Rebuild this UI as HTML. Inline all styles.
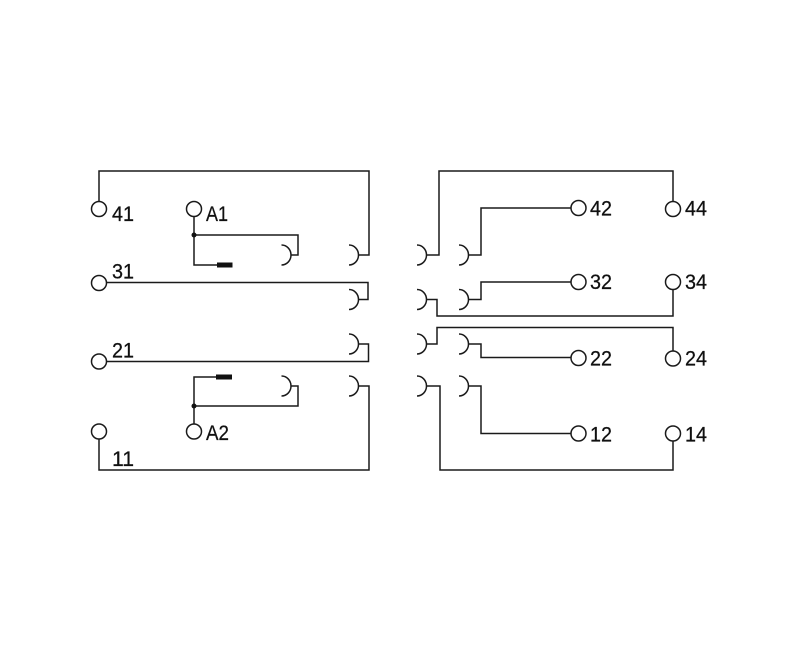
<!DOCTYPE html>
<html><head><meta charset="utf-8"><style>
html,body{margin:0;padding:0;background:#fff;}
svg{display:block;}
text{font-family:"Liberation Sans",Arial,sans-serif;font-size:21px;fill:#111;stroke:#111;stroke-width:0.25;}
</style></head><body>
<svg width="800" height="645" viewBox="0 0 800 645" xmlns="http://www.w3.org/2000/svg">
<g fill="none" stroke="#1a1a1a" stroke-width="1.5">
<!-- LEFT SIDE -->
<polyline points="99,201.5 99,171 369,171 369,255 359,255"/>
<path d="M349,245 A9.5,10 0 0 1 349,265"/>
<circle cx="99" cy="209" r="7.5"/>
<circle cx="194" cy="209" r="7.5"/>
<polyline points="194,216.5 194,265 217,265"/>
<polyline points="194,235 298,235 298,255 291,255"/>
<path d="M281.5,245 A9.5,10 0 0 1 281.5,265"/>
<circle cx="99" cy="283" r="7.5"/>
<polyline points="106.5,282.5 368,282.5 368,299.5 359,299.5"/>
<path d="M349,289.5 A9.5,10 0 0 1 349,309.5"/>
<path d="M349,334 A9.5,10 0 0 1 349,354"/>
<polyline points="359,344 368.5,344 368.5,361.5 106.5,361.5"/>
<circle cx="99" cy="361.5" r="7.5"/>
<polyline points="216,377 194,377 194,424"/>
<circle cx="194" cy="431.5" r="7.5"/>
<polyline points="194,406 298,406 298,386 291,386"/>
<path d="M281.5,376 A9.5,10 0 0 1 281.5,396"/>
<path d="M349,376 A9.5,10 0 0 1 349,396"/>
<polyline points="359,386 369,386 369,470 99,470 99,439"/>
<circle cx="99" cy="431.5" r="7.5"/>

<!-- RIGHT SIDE -->
<polyline points="673,201.5 673,171 439,171 439,255 427,255"/>
<path d="M417,245 A9.5,10 0 0 1 417,265"/>
<circle cx="673" cy="209" r="7.5"/>
<path d="M459,245 A9.5,10 0 0 1 459,265"/>
<polyline points="469,255 481,255 481,208 571,208"/>
<circle cx="578.5" cy="208" r="7.5"/>
<circle cx="578.5" cy="282" r="7.5"/>
<polyline points="571,282 481,282 481,299.5 469,299.5"/>
<path d="M459,289.5 A9.5,10 0 0 1 459,309.5"/>
<path d="M417,289.5 A9.5,10 0 0 1 417,309.5"/>
<polyline points="427,299.5 437,299.5 437,316 673,316 673,289.5"/>
<circle cx="673" cy="282" r="7.5"/>
<path d="M417,334 A9.5,10 0 0 1 417,354"/>
<polyline points="427,344 437,344 437,327.5 673,327.5 673,351"/>
<circle cx="673" cy="358.5" r="7.5"/>
<path d="M459,334 A9.5,10 0 0 1 459,354"/>
<polyline points="469,344 481,344 481,357.5 571,357.5"/>
<circle cx="578.5" cy="358" r="7.5"/>
<path d="M417,376 A9.5,10 0 0 1 417,396"/>
<polyline points="427,386 440,386 440,470 673,470 673,441"/>
<circle cx="673" cy="433.5" r="7.5"/>
<path d="M459,376 A9.5,10 0 0 1 459,396"/>
<polyline points="469,386 481,386 481,433.5 571,433.5"/>
<circle cx="578.5" cy="433.5" r="7.5"/>
</g>
<g fill="#111">
<rect x="217" y="262.5" width="15.5" height="5"/>
<rect x="216" y="374.5" width="16" height="5"/>
<circle cx="194" cy="235" r="2.5"/>
<circle cx="194" cy="406" r="2.5"/>
</g>
<text x="112" y="221" textLength="22" lengthAdjust="spacingAndGlyphs">41</text>
<text x="206" y="221" textLength="22" lengthAdjust="spacingAndGlyphs">A1</text>
<text x="112" y="278.5" textLength="22" lengthAdjust="spacingAndGlyphs">31</text>
<text x="112" y="357.5" textLength="22" lengthAdjust="spacingAndGlyphs">21</text>
<text x="206" y="440" textLength="23" lengthAdjust="spacingAndGlyphs">A2</text>
<text x="112" y="466" textLength="22" lengthAdjust="spacingAndGlyphs">11</text>
<text x="590" y="215.5" textLength="22" lengthAdjust="spacingAndGlyphs">42</text>
<text x="685" y="215.5" textLength="22" lengthAdjust="spacingAndGlyphs">44</text>
<text x="590" y="289" textLength="22" lengthAdjust="spacingAndGlyphs">32</text>
<text x="685" y="289" textLength="22" lengthAdjust="spacingAndGlyphs">34</text>
<text x="590" y="365.5" textLength="22" lengthAdjust="spacingAndGlyphs">22</text>
<text x="685" y="365.5" textLength="22" lengthAdjust="spacingAndGlyphs">24</text>
<text x="590" y="441.5" textLength="22" lengthAdjust="spacingAndGlyphs">12</text>
<text x="685" y="441.5" textLength="22" lengthAdjust="spacingAndGlyphs">14</text>
</svg>
</body></html>
